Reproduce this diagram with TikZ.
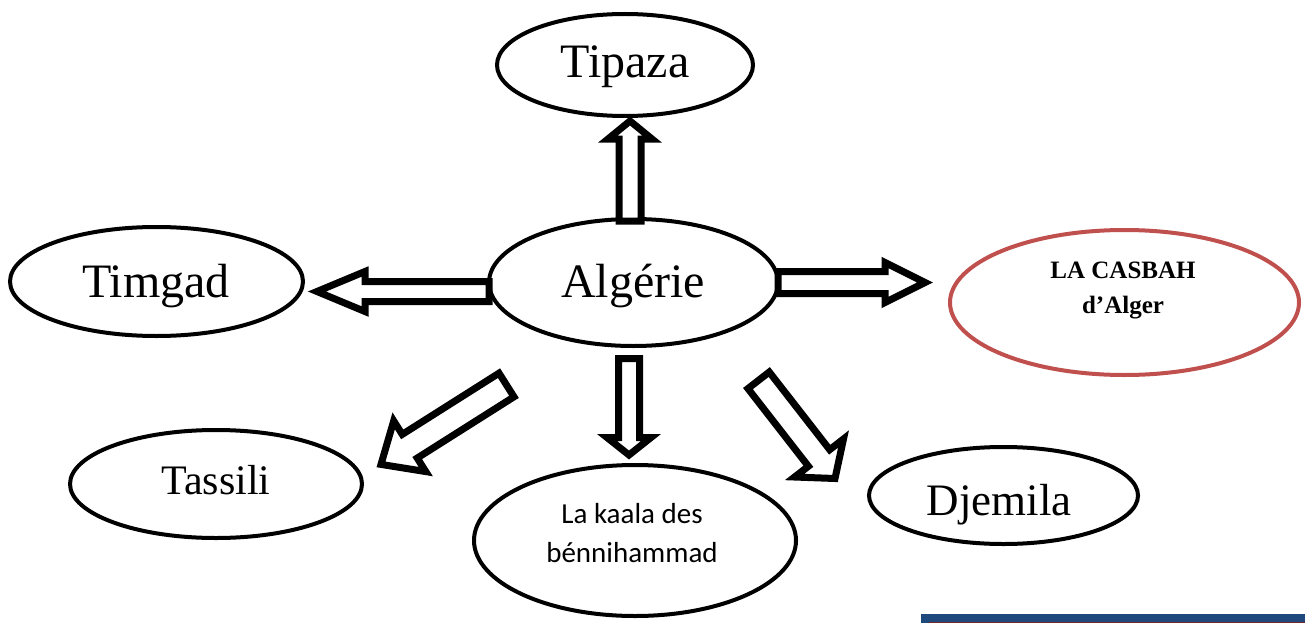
\documentclass[tikz,border=0pt]{standalone}
\usepackage{fontspec}
\setmainfont{Liberation Serif}
\newfontfamily\calib{Carlito}
\usetikzlibrary{shapes.geometric,calc}
\definecolor{casred}{RGB}{192,80,77}
\definecolor{barblue}{RGB}{31,73,125}
\definecolor{barred}{RGB}{120,40,40}
% #1 name, #2 tail, #3 tip, #4 shaft half width, #5 head half width, #6 head length
\newcommand{\blockarrow}[6]{%
  \coordinate (#1h) at ($(#3)!#6!(#2)$);
  \draw[barrow] ($(#2)!#4!90:(#3)$) -- ($(#1h)!#4!90:(#3)$) -- ($(#1h)!#5!90:(#3)$)
    -- (#3) -- ($(#1h)!#5!-90:(#3)$) -- ($(#1h)!#4!-90:(#3)$) -- ($(#2)!#4!-90:(#3)$) -- cycle;
}
\begin{document}
\begin{tikzpicture}[x=1pt,y=-1pt,
  ell/.style={ellipse, draw, line width=4pt, fill=white, inner sep=0pt},
  barrow/.style={draw, line width=7pt, fill=white, line join=miter, miter limit=12},
  lbl/.style={anchor=base, inner sep=0pt}]
\useasboundingbox (0,0) rectangle (1305,623);

% ellipses
\node[ell, minimum width=256pt, minimum height=102pt] (tip) at (625,65) {};
\node[ell, minimum width=289pt, minimum height=127pt] (alg) at (633.5,282.5) {};
\node[ell, minimum width=293pt, minimum height=109pt] (tim) at (156.5,281.5) {};
\node[ell, draw=casred, minimum width=349pt, minimum height=145pt] (cas) at (1124.5,302.5) {};
\node[ell, minimum width=292pt, minimum height=108pt] (tas) at (216,484) {};
\node[ell, minimum width=322pt, minimum height=151pt] (kaa) at (635,540.5) {};
\node[ell, minimum width=269pt, minimum height=97pt] (dje) at (1003.5,495.5) {};

% labels
\node[lbl, font=\fontsize{48}{48}\selectfont] (tipT) at (625,78) {Tipaza};
\node[lbl, font=\fontsize{48}{48}\selectfont] (algT) at (633,297) {Algérie};
\node[lbl, font=\fontsize{48}{48}\selectfont] (timT) at (156,297) {Timgad};
\node[lbl, font=\fontsize{42}{42}\selectfont] (tasT) at (216,494) {Tassili};
\node[lbl, font=\fontsize{45}{45}\selectfont] (djeT) at (999,515) {Djemila};
\node[lbl, font=\fontsize{25}{25}\selectfont\bfseries] (casT1) at (1123,278) {LA CASBAH};
\node[lbl, font=\fontsize{25}{25}\selectfont\bfseries] (casT2) at (1123,313) {d’Alger};
\node[lbl, font=\calib\fontsize{29}{29}\selectfont] (kaaT1) at (632,523) {La kaala des};
\node[lbl, font=\calib\fontsize{29}{29}\selectfont] (kaaT2) at (632,562) {bénnihammad};

% arrow end points
\coordinate (upA) at (630,221);     \coordinate (upB) at (630,121);
\coordinate (lfA) at (489,291.5);   \coordinate (lfB) at (317,291.5);
\coordinate (rtA) at (778,282.5);   \coordinate (rtB) at (925,282.5);
\coordinate (dnA) at (629,358.5);   \coordinate (dnB) at (629,455);
\coordinate (dlA) at (506.5,385);   \coordinate (dlB) at (381,464.4);
\coordinate (drA) at (758.6,380.3); \coordinate (drB) at (835,478.5);

\blockarrow{up}{upA}{upB}{11pt}{22pt}{18pt}
\blockarrow{lf}{lfA}{lfB}{10pt}{20pt}{48pt}
\blockarrow{rt}{rtA}{rtB}{11pt}{20pt}{40pt}
\blockarrow{dn}{dnA}{dnB}{10.5pt}{22pt}{17.5pt}
\blockarrow{dl}{dlA}{dlB}{14pt}{30pt}{34pt}
\blockarrow{dr}{drA}{drB}{13.5pt}{31pt}{26pt}

% bottom bar
\fill[barblue] (921,614) rectangle (1305,623);
\fill[barred] (929,622) rectangle (1305,623);
\end{tikzpicture}
\end{document}
